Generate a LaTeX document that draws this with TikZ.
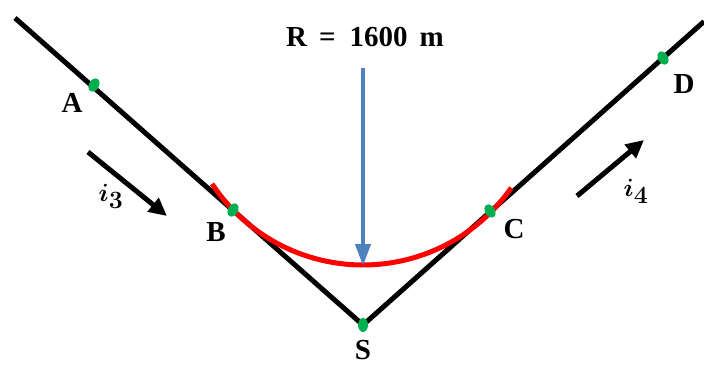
\documentclass[tikz,border=0pt]{standalone}
\usepackage{fontspec}
\setmainfont{Liberation Serif}
\usetikzlibrary{arrows.meta,shapes.geometric}
\definecolor{roadgreen}{RGB}{0,176,80}
\definecolor{steelblue}{RGB}{79,129,189}
\begin{document}
\begin{tikzpicture}[x=1pt,y=1pt,
  road/.style={line width=5pt,black},
  curve/.style={line width=5pt,red},
  pt/.style={ellipse,fill=roadgreen,minimum width=10pt,minimum height=14pt,inner sep=0pt},
  lbl/.style={font=\fontsize{29}{31}\selectfont\bfseries,inner sep=0pt},
  dir/.style={line width=5pt,-{Triangle[length=18pt,width=17pt]}},
  radarrow/.style={line width=4pt,steelblue,-{Triangle[length=22pt,width=15pt]}},
  mlbl/.style={inner sep=0pt,font=\fontsize{34}{36}\selectfont\boldmath}]
\useasboundingbox (0,0) rectangle (704,365);
% coordinates
\coordinate (L) at (15,347);
\coordinate (S) at (363,40);
\coordinate (Rt) at (704,343.5);
% roads
\draw[road,line cap=butt] (L) -- (S) -- (Rt);
% curve
\draw[curve] (363,281) ++(213.5:181) arc[start angle=213.5,end angle=325,radius=181];
% radius arrow
\coordinate (rtop) at (363,297);
\coordinate (rbot) at (363,99);
\draw[radarrow] (rtop) -- (rbot);
\node[lbl] (rlab) at (365,328) {R\hspace{12pt}=\hspace{14pt}1600\hspace{12pt}m};
% points
\node[pt,rotate=-30] (A) at (94,280) {};
\node[pt,rotate=-30] (B) at (233,155) {};
\node[pt,rotate=30] (C) at (490,154) {};
\node[pt,rotate=30] (D) at (663,307) {};
\node[pt] (Sp) at (363,40) {};
% labels
\node[lbl] (Al) at (72,262) {A};
\node[lbl] (Bl) at (216,133) {B};
\node[lbl] (Cl) at (514,136) {C};
\node[lbl] (Dl) at (684,281) {D};
\node[lbl] (Sl) at (363,15) {S};
% direction arrows
\coordinate (i3s) at (88,213);
\coordinate (i3e) at (167,149);
\draw[dir] (i3s) -- (i3e);
\coordinate (i4s) at (577,169);
\coordinate (i4e) at (644,225);
\draw[dir] (i4s) -- (i4e);
\node[mlbl] (i3) at (111,169) {$i_3$};
\node[mlbl] (i4) at (636,174) {$i_4$};
\end{tikzpicture}
\end{document}
